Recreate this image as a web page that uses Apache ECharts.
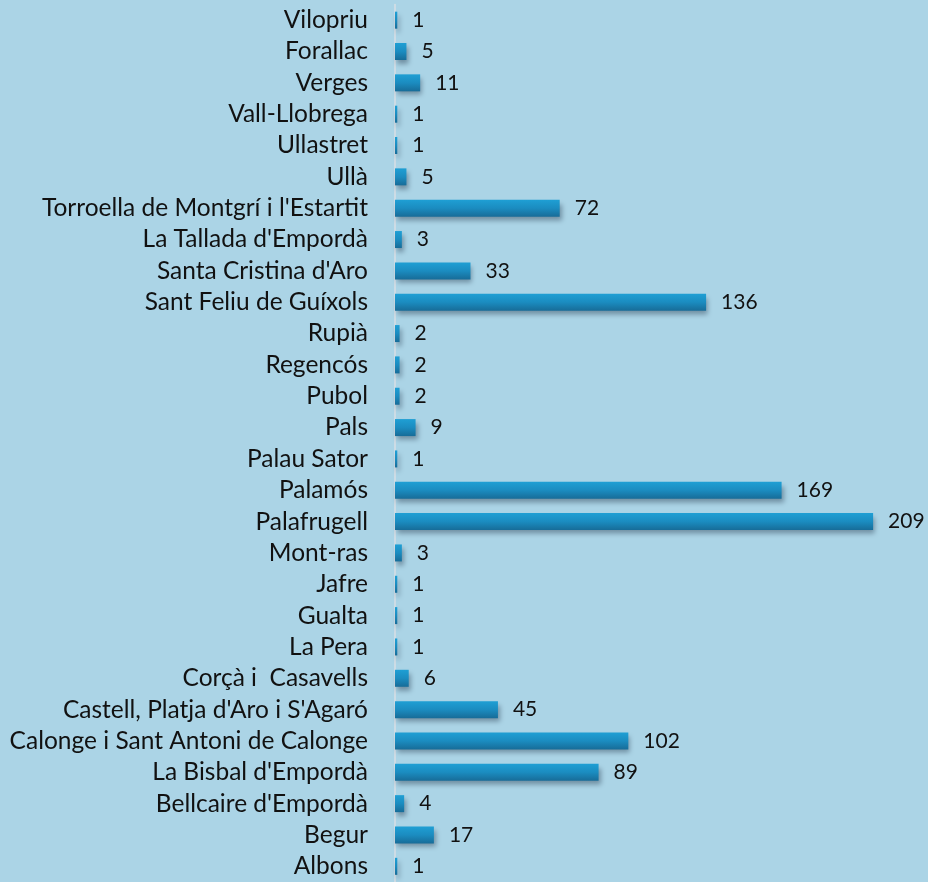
<!DOCTYPE html>
<html>
<head>
<meta charset="utf-8">
<script src="https://cdn.jsdelivr.net/npm/echarts@6/dist/echarts.min.js"></script>
<style>
  html, body { margin: 0; padding: 0; background: #abd4e6; }
  #chart { width: 928px; height: 882px; }
</style>
</head>
<body>
<div id="chart"></div>
<script>
// municipis, de dalt a baix com a la imatge
var municipis = ["Vilopriu", "Forallac", "Verges", "Vall-Llobrega", "Ullastret", "Ullà",
    "Torroella de Montgrí i l'Estartit", "La Tallada d'Empordà", "Santa Cristina d'Aro",
    "Sant Feliu de Guíxols", "Rupià", "Regencós", "Pubol", "Pals", "Palau Sator", "Palamós",
    "Palafrugell", "Mont-ras", "Jafre", "Gualta", "La Pera", "Corçà i  Casavells",
    "Castell, Platja d'Aro i S'Agaró", "Calonge i Sant Antoni de Calonge", "La Bisbal d'Empordà",
    "Bellcaire d'Empordà", "Begur", "Albons"];
var valors = [1, 5, 11, 1, 1, 5, 72, 3, 33, 136, 2, 2, 2, 9, 1, 169, 209, 3, 1, 1, 1, 6, 45, 102, 89, 4, 17, 1];

// l'eix de categories va de baix a dalt
var cats = municipis.slice().reverse();
var vals = valors.slice().reverse();

var chart = echarts.init(document.getElementById('chart'));

var option = {
    backgroundColor: '#abd4e6',
    animation: false,
    grid: { left: 395, right: 0, top: 4.5, height: 882 },
    xAxis: {
        type: 'value',
        min: 0,
        max: 233,
        show: false
    },
    yAxis: {
        type: 'category',
        data: cats,
        axisLine: { show: true, lineStyle: { color: '#d8dfe4', width: 1.5 } },
        axisTick: { show: false },
        axisLabel: {
            interval: 0,
            hideOverlap: false,
            margin: 27,
            fontFamily: 'Lato',
            fontSize: 24.5,
            color: '#111'
        }
    },
    series: [{
        type: 'bar',
        data: vals,
        barWidth: 17,
        itemStyle: {
            color: new echarts.graphic.LinearGradient(0, 0, 0, 1, [
                { offset: 0, color: '#1f9fd4' },
                { offset: 0.5, color: '#1b8cc0' },
                { offset: 1, color: '#176c98' }
            ]),
            shadowColor: 'rgba(40, 60, 80, 0.45)',
            shadowBlur: 5,
            shadowOffsetX: 2,
            shadowOffsetY: 4
        },
        label: {
            show: true,
            position: 'right',
            distance: 15,
            fontFamily: 'Lato',
            fontSize: 21,
            color: '#111'
        }
    }]
};

chart.setOption(option);
</script>
</body>
</html>
